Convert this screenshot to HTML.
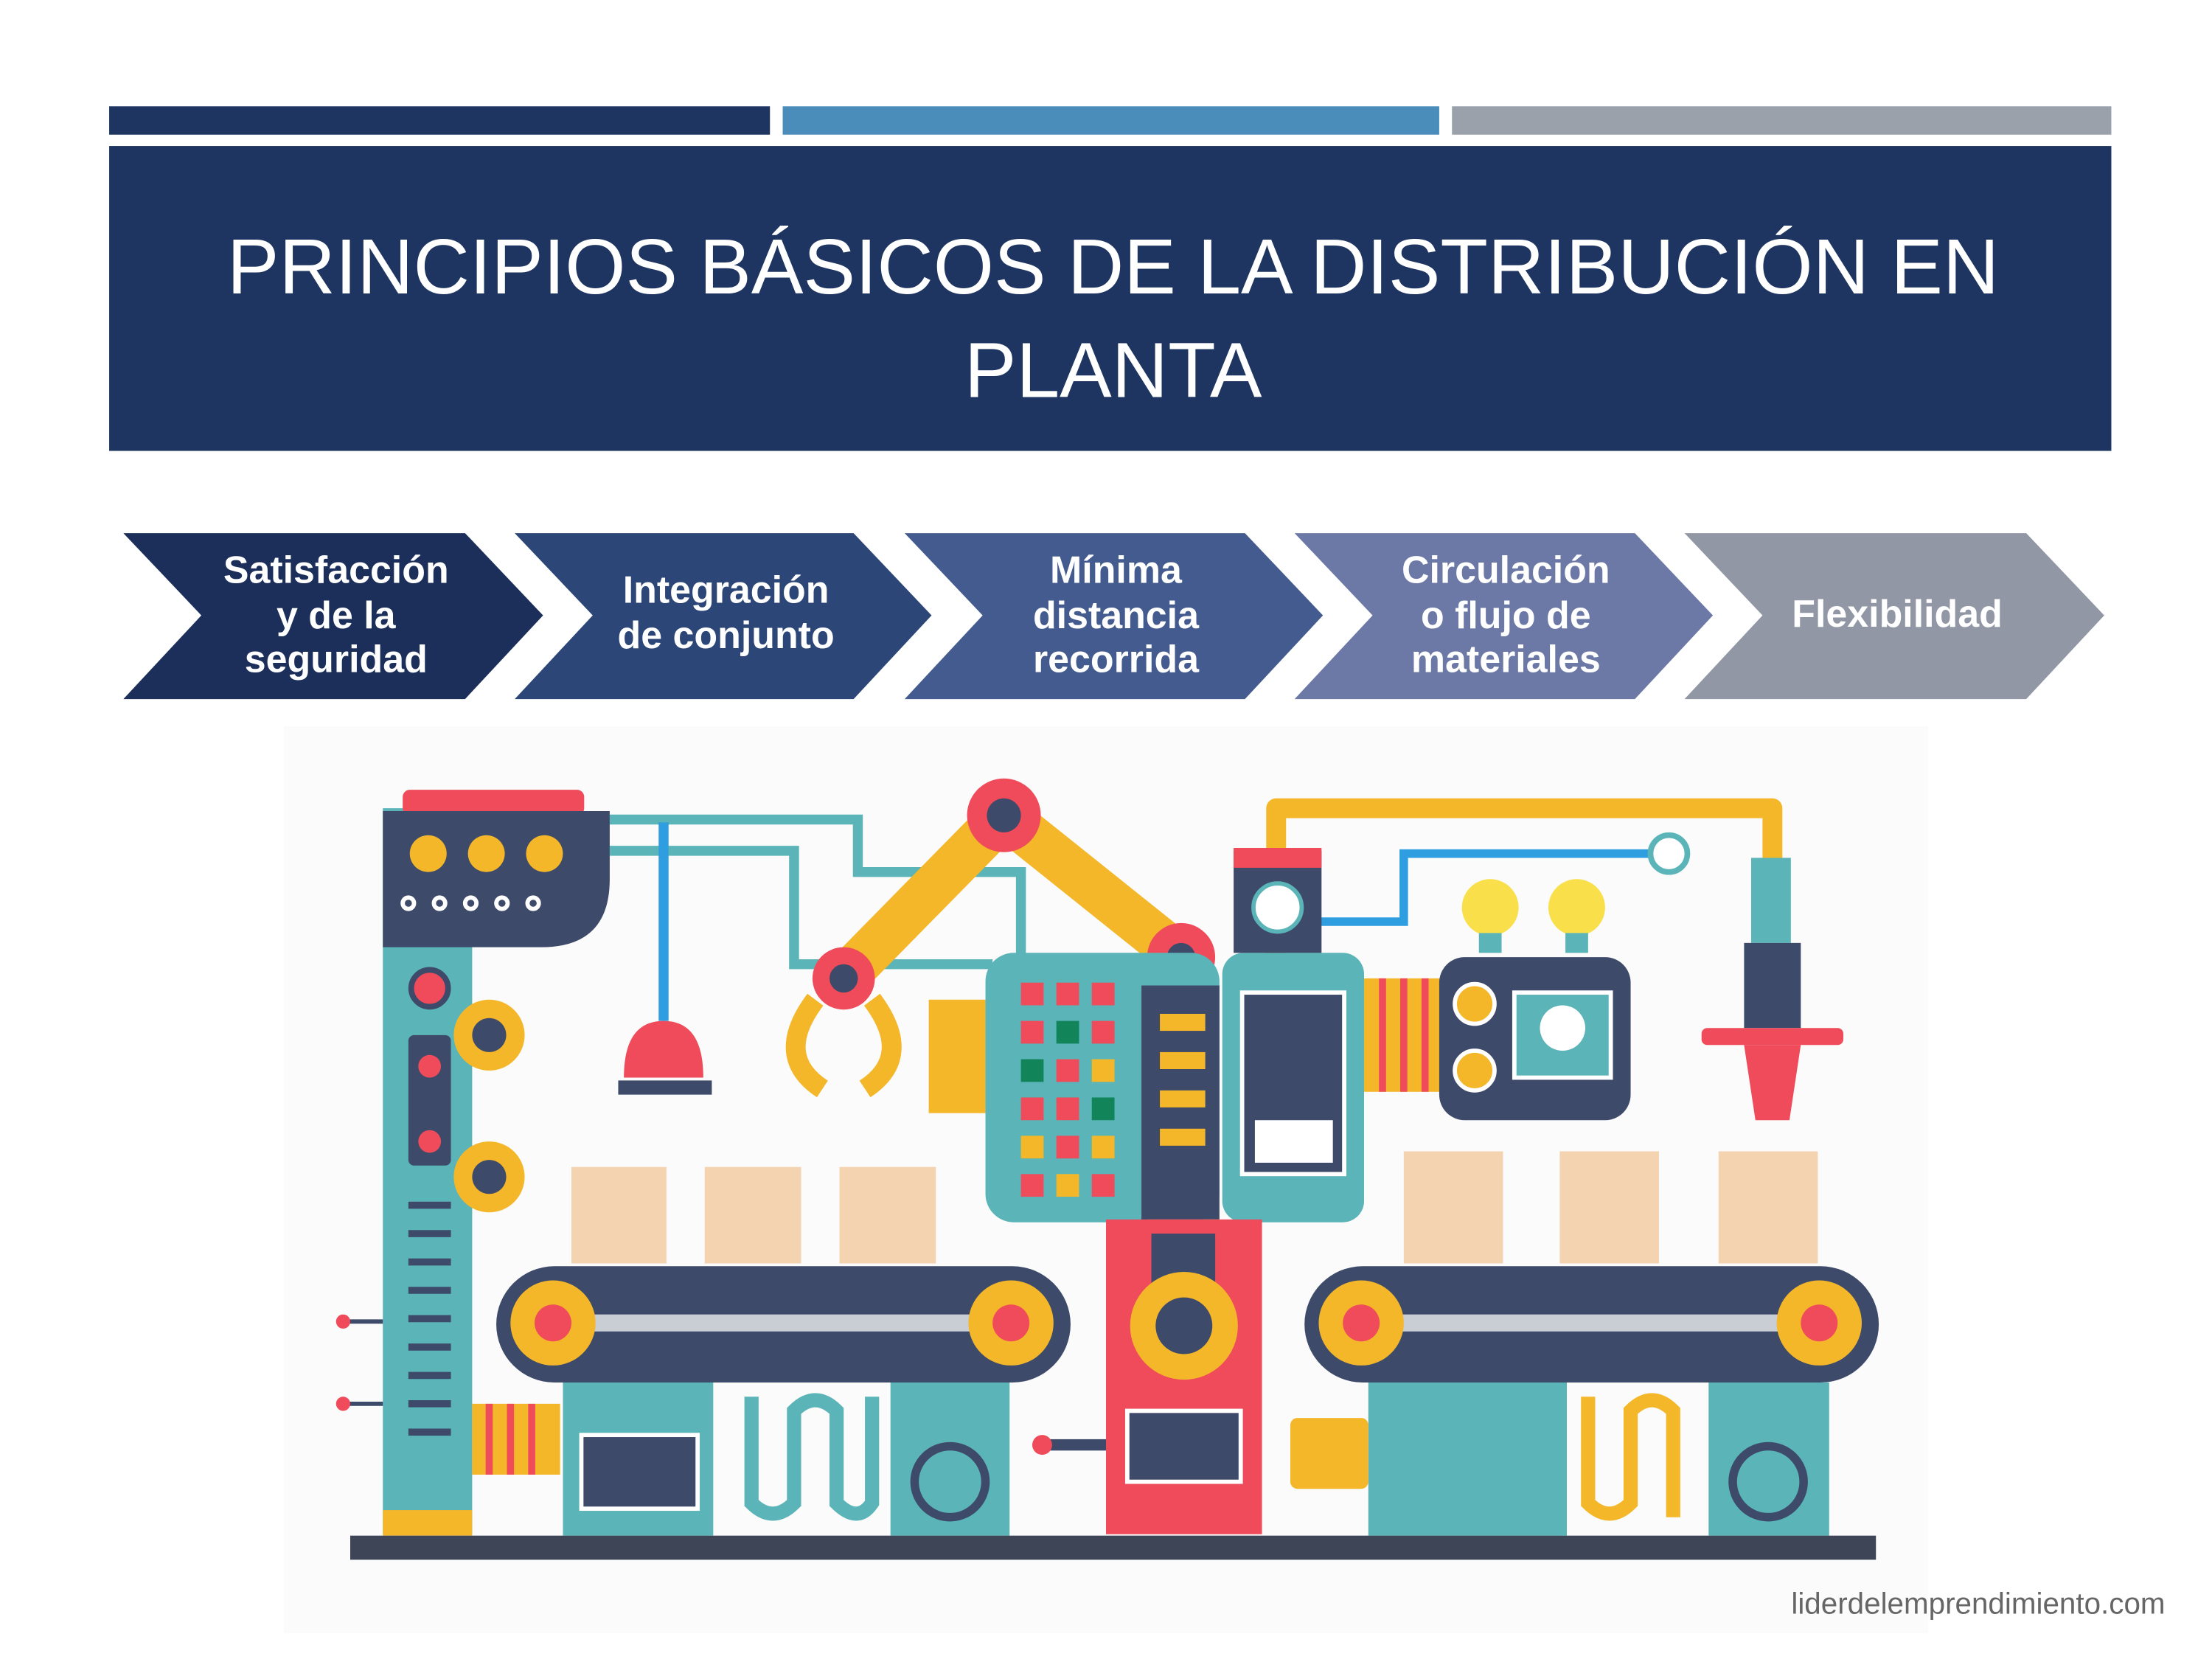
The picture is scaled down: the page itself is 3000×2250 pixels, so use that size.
<!DOCTYPE html>
<html><head><meta charset="utf-8">
<style>
html,body{margin:0;padding:0;background:#fff;}
svg{display:block;}
</style></head>
<body>
<svg width="3000" height="2250" viewBox="0 0 1560 1170" xmlns="http://www.w3.org/2000/svg">
<rect width="1560" height="1170" fill="#fff"/>
<!-- top bars -->
<rect x="77" y="75" width="466" height="20" fill="#1e3461"/>
<rect x="552" y="75" width="463" height="20" fill="#4a8dbb"/>
<rect x="1024" y="75" width="465" height="20" fill="#9aa1aa"/>
<!-- title -->
<rect x="77" y="103" width="1412" height="215" fill="#1e3461"/>
<g font-family="Liberation Sans, sans-serif" font-size="55" fill="#fff" text-anchor="middle">
<text x="785" y="207">PRINCIPIOS BÁSICOS DE LA DISTRIBUCIÓN EN</text>
<text x="785" y="280">PLANTA</text>
</g>
<!-- chevrons -->
<polygon points="87,376 328,376 383,434 328,493 87,493 142,434" fill="#1c2f5a"/>
<polygon points="363,376 602,376 657,434 602,493 363,493 418,434" fill="#2c4677"/>
<polygon points="638,376 878,376 933,434 878,493 638,493 693,434" fill="#445b8f"/>
<polygon points="913,376 1153,376 1208,434 1153,493 913,493 968,434" fill="#6c79a6"/>
<polygon points="1188,376 1429,376 1484,434 1429,493 1188,493 1243,434" fill="#9297a5"/>
<g font-family="Liberation Sans, sans-serif" font-size="27" font-weight="bold" fill="#fff" text-anchor="middle">
<text x="237" y="411">Satisfacción</text><text x="237" y="443">y de la</text><text x="237" y="474">seguridad</text>
<text x="512" y="425">Integración</text><text x="512" y="457">de conjunto</text>
<text x="787" y="411">Mínima</text><text x="787" y="443">distancia</text><text x="787" y="474">recorrida</text>
<text x="1062" y="411">Circulación</text><text x="1062" y="443">o flujo de</text><text x="1062" y="474">materiales</text>
<text x="1338" y="442">Flexibilidad</text>
</g>
<!-- illustration background -->
<rect x="200" y="512" width="1160" height="640" fill="#fbfbfb"/>
<!-- pipes -->
<path d="M430 578 H605 V615 H720 V690" stroke="#5ab4b8" stroke-width="7" fill="none"/>
<path d="M430 600 H560 V680 H700" stroke="#5ab4b8" stroke-width="7" fill="none"/>
<path d="M468 580 V720" stroke="#2f9ee0" stroke-width="7" fill="none"/>
<path d="M900 680 V570 H1250 V610" stroke="#f5b72a" stroke-width="14" fill="none" stroke-linejoin="round"/>
<path d="M930 650 H990 V602 H1165" stroke="#2f9ee0" stroke-width="6" fill="none"/>
<circle cx="1177" cy="602" r="13" fill="#fff" stroke="#5ab4b8" stroke-width="4"/>
<!-- left tower -->
<rect x="270" y="570" width="63" height="512" fill="#5ab4b8"/>
<rect x="284" y="557" width="128" height="18" rx="5" fill="#ef4b5a"/>
<path d="M270 572 H430 V620 Q430 668 382 668 H270 Z" fill="#3e4a6a"/>
<circle cx="302" cy="602" r="13" fill="#f5b72a"/><circle cx="343" cy="602" r="13" fill="#f5b72a"/><circle cx="384" cy="602" r="13" fill="#f5b72a"/>
<g fill="none" stroke="#fff" stroke-width="3"><circle cx="288" cy="637" r="4"/><circle cx="310" cy="637" r="4"/><circle cx="332" cy="637" r="4"/><circle cx="354" cy="637" r="4"/><circle cx="376" cy="637" r="4"/></g>
<circle cx="303" cy="697" r="13" fill="#ef4b5a" stroke="#3e4a6a" stroke-width="4"/>
<rect x="288" y="730" width="30" height="92" rx="4" fill="#3e4a6a"/>
<circle cx="303" cy="752" r="8" fill="#ef4b5a"/><circle cx="303" cy="805" r="8" fill="#ef4b5a"/>
<g stroke="#3e4a6a" stroke-width="5"><line x1="288" y1="850" x2="318" y2="850"/><line x1="288" y1="870" x2="318" y2="870"/><line x1="288" y1="890" x2="318" y2="890"/><line x1="288" y1="910" x2="318" y2="910"/><line x1="288" y1="930" x2="318" y2="930"/><line x1="288" y1="950" x2="318" y2="950"/><line x1="288" y1="970" x2="318" y2="970"/><line x1="288" y1="990" x2="318" y2="990"/><line x1="288" y1="1010" x2="318" y2="1010"/></g>
<rect x="270" y="1065" width="63" height="18" fill="#f5b72a"/>
<circle cx="345" cy="730" r="25" fill="#f5b72a"/><circle cx="345" cy="730" r="12" fill="#3e4a6a"/>
<circle cx="345" cy="830" r="25" fill="#f5b72a"/><circle cx="345" cy="830" r="12" fill="#3e4a6a"/>
<g stroke="#3e4a6a" stroke-width="3"><line x1="240" y1="932" x2="270" y2="932"/><line x1="240" y1="990" x2="270" y2="990"/></g>
<circle cx="242" cy="932" r="5" fill="#ef4b5a"/><circle cx="242" cy="990" r="5" fill="#ef4b5a"/>
<rect x="333" y="990" width="62" height="50" fill="#f5b72a"/>
<g stroke="#ef4b5a" stroke-width="5"><line x1="345" y1="990" x2="345" y2="1040"/><line x1="360" y1="990" x2="360" y2="1040"/><line x1="375" y1="990" x2="375" y2="1040"/></g>
<!-- hanging lamp -->
<path d="M440 760 Q440 720 468 720 Q496 720 496 760 Z" fill="#ef4b5a"/>
<rect x="436" y="762" width="66" height="10" fill="#3e4a6a"/>
<!-- robot arm -->
<path d="M595 690 L708 575 L833 675" stroke="#f5b72a" stroke-width="32" fill="none" stroke-linejoin="round"/>
<circle cx="708" cy="575" r="26" fill="#ef4b5a"/><circle cx="708" cy="575" r="12" fill="#3e4a6a"/>
<circle cx="833" cy="675" r="24" fill="#ef4b5a"/><circle cx="833" cy="675" r="10" fill="#3e4a6a"/>
<circle cx="595" cy="690" r="22" fill="#ef4b5a"/><circle cx="595" cy="690" r="10" fill="#3e4a6a"/>
<path d="M575 705 Q545 745 580 768" stroke="#f5b72a" stroke-width="14" fill="none"/>
<path d="M615 705 Q645 745 610 768" stroke="#f5b72a" stroke-width="14" fill="none"/>
<!-- central machine -->
<rect x="655" y="705" width="45" height="80" fill="#f5b72a"/>
<rect x="695" y="672" width="165" height="190" rx="20" fill="#5ab4b8"/>
<g>
<rect x="720" y="693" width="16" height="16" fill="#ef4b5a"/><rect x="745" y="693" width="16" height="16" fill="#ef4b5a"/><rect x="770" y="693" width="16" height="16" fill="#ef4b5a"/>
<rect x="720" y="720" width="16" height="16" fill="#ef4b5a"/><rect x="745" y="720" width="16" height="16" fill="#12845a"/><rect x="770" y="720" width="16" height="16" fill="#ef4b5a"/>
<rect x="720" y="747" width="16" height="16" fill="#12845a"/><rect x="745" y="747" width="16" height="16" fill="#ef4b5a"/><rect x="770" y="747" width="16" height="16" fill="#f5b72a"/>
<rect x="720" y="774" width="16" height="16" fill="#ef4b5a"/><rect x="745" y="774" width="16" height="16" fill="#ef4b5a"/><rect x="770" y="774" width="16" height="16" fill="#12845a"/>
<rect x="720" y="801" width="16" height="16" fill="#f5b72a"/><rect x="745" y="801" width="16" height="16" fill="#ef4b5a"/><rect x="770" y="801" width="16" height="16" fill="#f5b72a"/>
<rect x="720" y="828" width="16" height="16" fill="#ef4b5a"/><rect x="745" y="828" width="16" height="16" fill="#f5b72a"/><rect x="770" y="828" width="16" height="16" fill="#ef4b5a"/>
</g>
<rect x="805" y="695" width="55" height="165" fill="#3e4a6a"/>
<g fill="#f5b72a"><rect x="818" y="715" width="32" height="12"/><rect x="818" y="742" width="32" height="12"/><rect x="818" y="769" width="32" height="12"/><rect x="818" y="796" width="32" height="12"/></g>
<rect x="862" y="672" width="100" height="190" rx="15" fill="#5ab4b8"/>
<rect x="876" y="700" width="72" height="128" fill="#3e4a6a" stroke="#fff" stroke-width="3"/>
<rect x="885" y="790" width="55" height="30" fill="#fff"/>
<rect x="870" y="600" width="62" height="72" fill="#3e4a6a"/><rect x="870" y="598" width="62" height="14" fill="#ef4b5a"/>
<circle cx="901" cy="640" r="17" fill="#fff" stroke="#5ab4b8" stroke-width="3"/>
<rect x="962" y="690" width="55" height="80" fill="#f5b72a"/>
<g stroke="#ef4b5a" stroke-width="5"><line x1="975" y1="690" x2="975" y2="770"/><line x1="990" y1="690" x2="990" y2="770"/><line x1="1005" y1="690" x2="1005" y2="770"/></g>
<!-- center red column -->
<rect x="810" y="860" width="50" height="70" fill="#f5b72a"/>
<rect x="780" y="860" width="110" height="222" fill="#ef4b5a"/>
<rect x="812" y="870" width="45" height="70" fill="#3e4a6a"/>
<circle cx="835" cy="935" r="38" fill="#f5b72a"/><circle cx="835" cy="935" r="20" fill="#3e4a6a"/>
<rect x="795" y="995" width="80" height="50" fill="#3e4a6a" stroke="#fff" stroke-width="3"/>
<!-- right machine -->
<rect x="1015" y="675" width="135" height="115" rx="18" fill="#3e4a6a"/>
<circle cx="1051" cy="640" r="20" fill="#f9e04b"/><rect x="1043" y="658" width="16" height="14" fill="#5ab4b8"/>
<circle cx="1112" cy="640" r="20" fill="#f9e04b"/><rect x="1104" y="658" width="16" height="14" fill="#5ab4b8"/>
<circle cx="1040" cy="708" r="14" fill="#f5b72a" stroke="#fff" stroke-width="3"/>
<circle cx="1040" cy="755" r="14" fill="#f5b72a" stroke="#fff" stroke-width="3"/>
<rect x="1068" y="700" width="68" height="60" fill="#5ab4b8" stroke="#fff" stroke-width="3"/>
<circle cx="1102" cy="725" r="16" fill="#fff"/>
<!-- dispenser -->
<rect x="1235" y="605" width="28" height="60" fill="#5ab4b8"/>
<rect x="1230" y="665" width="40" height="60" fill="#3e4a6a"/>
<rect x="1200" y="725" width="100" height="12" rx="4" fill="#ef4b5a"/>
<path d="M1230 737 H1270 L1262 790 H1238 Z" fill="#ef4b5a"/>
<!-- boxes -->
<g fill="#f4d3b0">
<rect x="403" y="823" width="67" height="68"/><rect x="497" y="823" width="68" height="68"/><rect x="592" y="823" width="68" height="68"/>
<rect x="990" y="812" width="70" height="79"/><rect x="1100" y="812" width="70" height="79"/><rect x="1212" y="812" width="70" height="79"/>
</g>
<!-- conveyors -->
<rect x="350" y="893" width="405" height="82" rx="41" fill="#3e4a6a"/>
<rect x="390" y="927" width="323" height="12" fill="#c9cdd4"/>
<circle cx="390" cy="933" r="30" fill="#f5b72a"/><circle cx="390" cy="933" r="13" fill="#ef4b5a"/>
<circle cx="713" cy="933" r="30" fill="#f5b72a"/><circle cx="713" cy="933" r="13" fill="#ef4b5a"/>
<rect x="920" y="893" width="405" height="82" rx="41" fill="#3e4a6a"/>
<rect x="960" y="927" width="323" height="12" fill="#c9cdd4"/>
<circle cx="960" cy="933" r="30" fill="#f5b72a"/><circle cx="960" cy="933" r="13" fill="#ef4b5a"/>
<circle cx="1283" cy="933" r="30" fill="#f5b72a"/><circle cx="1283" cy="933" r="13" fill="#ef4b5a"/>
<!-- lower cabinets -->
<g fill="#5ab4b8">
<rect x="397" y="975" width="106" height="108"/><rect x="628" y="975" width="84" height="108"/>
<rect x="965" y="975" width="140" height="108"/><rect x="1205" y="975" width="85" height="108"/>
</g>
<rect x="410" y="1012" width="82" height="52" fill="#3e4a6a" stroke="#fff" stroke-width="3"/>
<path d="M530 985 V1060 Q545 1075 560 1060 V995 Q575 980 590 995 V1060 Q605 1075 615 1060 V985" stroke="#5ab4b8" stroke-width="10" fill="none"/>
<path d="M1120 985 V1060 Q1135 1075 1150 1060 V995 Q1165 980 1180 995 V1070" stroke="#f5b72a" stroke-width="10" fill="none"/>
<circle cx="670" cy="1045" r="25" fill="none" stroke="#3e4a6a" stroke-width="6"/>
<circle cx="1247" cy="1045" r="25" fill="none" stroke="#3e4a6a" stroke-width="6"/>
<rect x="910" y="1000" width="55" height="50" rx="5" fill="#f5b72a"/>
<rect x="740" y="1015" width="40" height="8" fill="#3e4a6a"/><circle cx="735" cy="1019" r="7" fill="#ef4b5a"/>
<!-- base -->
<rect x="247" y="1083" width="1076" height="17" fill="#3d4556"/>
<text x="1527" y="1138" text-anchor="end" font-family="Liberation Sans, sans-serif" font-size="21" fill="#666">liderdelemprendimiento.com</text>
</svg>
</body></html>
